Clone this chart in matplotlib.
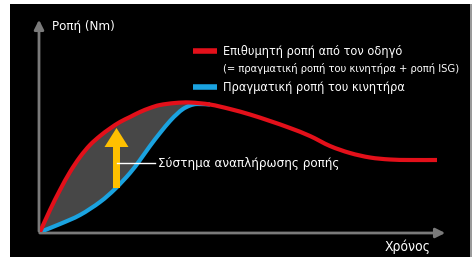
import numpy as np
import matplotlib
matplotlib.use("Agg")
import matplotlib.pyplot as plt
from matplotlib.patches import Rectangle, PathPatch
from matplotlib.path import Path

plt.rcParams['font.family'] = ['DejaVu Sans']
plt.rcParams['font.stretch'] = 'condensed'

# desired torque (driver request) - red
red_t = [0, 10, 20, 30, 40, 50, 60, 70, 80, 90, 100, 110, 120, 135, 150, 170,
         190, 210, 230, 250, 270, 290, 310, 330, 350, 370, 397]
red_y = [0, 22, 42, 60, 75, 87, 96, 103.5, 110, 115, 120, 124, 127, 129, 129.5, 127.5,
         123, 117.5, 111, 104, 96, 86, 79, 74.5, 72.5, 72, 72]

# actual engine torque - blue
blue_t = [0, 20, 40, 60, 75, 90, 100, 110, 120, 130, 137, 143, 150, 157, 170]
blue_y = [0, 8, 17, 30, 43, 59, 72, 86, 99, 111, 118, 123, 126.5, 128, 127.5]

legend_labels = ['Επιθυμητή ροπή από τον οδηγό',
                 '(= πραγματική ροπή του κινητήρα + ροπή ISG)',
                 'Πραγματική ροπή του κινητήρα']
ylabel = 'Ροπή (Nm)'
xlabel = 'Χρόνος'
note = 'Σύστημα αναπλήρωσης ροπής'

RED = '#e3101a'
BLUE = '#1aa3e0'
GREY = '#7a7a7a'
FILL = '#474747'
YELLOW = '#ffc000'


def smooth_path(xs, ys):
    # bezier path through the read points (catmull-rom tangents)
    p = np.column_stack([xs, ys]).astype(float)
    verts = [p[0]]
    codes = [Path.MOVETO]
    for i in range(len(p) - 1):
        p0 = p[max(i - 1, 0)]
        p3 = p[min(i + 2, len(p) - 1)]
        c1 = p[i] + (p[i + 1] - p0) / 6
        c2 = p[i + 1] - (p3 - p[i]) / 6
        verts += [c1, c2, p[i + 1]]
        codes += [Path.CURVE4] * 3
    return verts, codes


W, H = 472, 257
fig = plt.figure(figsize=(W / 100, H / 100), dpi=100)
fig.patch.set_facecolor('white')

bg = fig.add_axes([0, 0, 1, 1], zorder=-5)
bg.set_xlim(0, W)
bg.set_ylim(H, 0)
bg.axis('off')
bg.add_patch(Rectangle((10, 4), 460, 260, facecolor='black', edgecolor='none'))
bg.add_patch(Rectangle((470, 4), 1.5, 260, facecolor='#9a9a9a', edgecolor='none'))

# 1 data unit = 1 pixel, origin at the axis corner
ax = fig.add_axes([40 / W, 25 / H, 407 / W, 214 / H])
ax.set_xlim(0, 407)
ax.set_ylim(0, 214)
ax.axis('off')
ax.patch.set_alpha(0)

rv, rc = smooth_path(red_t, red_y)
bv, bc = smooth_path(blue_t, blue_y)

# area between curves: red up to where blue joins, then blue back
n_join = red_t.index(170)
rv_part, rc_part = smooth_path(red_t[:n_join + 1], red_y[:n_join + 1])
bv_rev, bc_rev = smooth_path(blue_t[::-1], blue_y[::-1])
fill_path = Path(rv_part + bv_rev[1:] + [rv_part[0]],
                 rc_part + bc_rev[1:] + [Path.CLOSEPOLY])
ax.add_patch(PathPatch(fill_path, facecolor=FILL, edgecolor='none', zorder=1))

ax.add_patch(PathPatch(Path(bv, bc), facecolor='none', edgecolor=BLUE, lw=3,
                       capstyle='butt', zorder=3))
ax.add_patch(PathPatch(Path(rv, rc), facecolor='none', edgecolor=RED, lw=3,
                       capstyle='butt', zorder=4))

# axes arrows
ax.annotate('', xy=(-1, 215), xytext=(-1, -2),
            arrowprops=dict(arrowstyle='-|>', color=GREY, lw=2, mutation_scale=14),
            annotation_clip=False, zorder=2)
ax.annotate('', xy=(408, -1), xytext=(-3, -1),
            arrowprops=dict(arrowstyle='-|>', color=GREY, lw=2, mutation_scale=14),
            annotation_clip=False, zorder=2)

# yellow arrow
ax.arrow(76.5, 44, 0, 60, width=7, head_width=24, head_length=19,
         length_includes_head=True, color=YELLOW, lw=0, zorder=5)

# annotation
ax.plot([77, 115], [69, 69], color='white', lw=1, zorder=6)
ax.text(118, 69, note, color='white', fontsize=9.6, va='center', ha='left')

ax.text(12, 206, ylabel, color='white', fontsize=9.5, va='center', ha='left')
ax.text(391, -15, xlabel, color='white', fontsize=10, va='center', ha='right',
        clip_on=False)

# legend
ax.plot([153, 177], [181, 181], color=RED, lw=4, solid_capstyle='butt', clip_on=False)
ax.plot([153, 177], [145, 145], color=BLUE, lw=4, solid_capstyle='butt', clip_on=False)
ax.text(183, 181, legend_labels[0], color='white', fontsize=9.1, va='center')
ax.text(183, 164, legend_labels[1], color='white', fontsize=8.0, va='center')
ax.text(183, 145, legend_labels[2], color='white', fontsize=9.1, va='center')

fig.savefig('out.png', dpi=100)
